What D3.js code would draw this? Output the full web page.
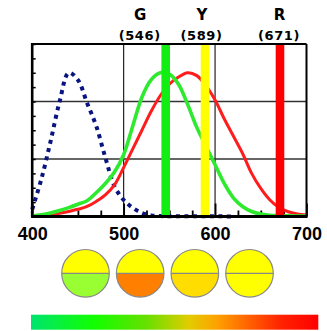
<!DOCTYPE html>
<html>
<head>
<meta charset="utf-8">
<script src="https://cdn.jsdelivr.net/npm/d3@7"></script>
<style>
body{margin:0;background:#fff;}
svg{display:block;}
.tick text{font-family:"Liberation Sans",Arial,sans-serif;font-weight:bold;}
</style>
</head>
<body>
<div id="chart"></div>
<script>
var w=327, h=331;

// wavelength grid (nm)
var wavelengths=[400,410,420,430,440,450,460,470,480,490,500,510,520,530,540,550,560,570,580,590,600,610,620,630,640,650,660,670,680,690,700];
// S cone (blue dotted), ends at 620
var sCone=[0.5,2.6,5.2,8.0,10.0,9.5,7.9,6.3,4.1,2.1,1.15,0.6,0.25,0.08,0.03,0.02,0.02,0.01,0.01,0.01,0.01,0.01,0.0,null,null,null,null,null,null,null,null];
// M cone (green)
var mCone=[0.03,0.12,0.25,0.42,0.62,0.85,1.1,1.65,2.3,3.1,4.3,6.3,8.3,9.5,10.0,9.9,9.2,7.8,6.2,4.9,3.6,2.3,1.3,0.7,0.35,0.17,0.09,0.06,0.05,0.04,0.03];
// L cone (red)
var lCone=[0.0,0.05,0.12,0.22,0.35,0.5,0.7,1.05,1.5,2.2,3.4,4.7,6.0,7.3,8.4,9.2,9.7,10.0,9.8,9.1,8.1,6.8,5.6,4.4,3.0,1.95,1.15,0.62,0.33,0.18,0.1];

// lamp lines
var lampNames=["G","Y","R"];
var lampWl=[546,589,671];
var lampColors=["#11ee11","#ffff00","#ff0000"];

// tick values
var majorTicks=[400,500,600,700];
var minorTicks=[425,450,475,525,550,575,625,650,675];
var yTicks=d3.range(0,13,1);
var gridX=[500,600];
var gridY=[4,8];

// colour matching discs
var discTop="#ffff00";
var discBottom=["#99ff33","#ff8000","#ffdd00","#ffff00"];

// spectrum bar stops
var specOffsets=[0,0.22,0.4,0.55,0.65,0.76,0.87,1];
var specColors=["#00e46e","#11ff00","#66e000","#e2cc00","#ffa000","#ff6000","#ff2200","#ff0000"];

var svg=d3.select("#chart").append("svg").attr("width",w).attr("height",h);

var xScale=d3.scaleLinear().domain([400,700]).range([32.2,306.5]);
var yScale=d3.scaleLinear().domain([0,12]).range([216.5,44]);

// grid
svg.selectAll(".gx").data(gridX).enter().append("line")
  .attr("x1",function(d){return xScale(d);}).attr("x2",function(d){return xScale(d);})
  .attr("y1",yScale(12)).attr("y2",yScale(0))
  .attr("stroke","#222").attr("stroke-width",1.2);
svg.selectAll(".gy").data(gridY).enter().append("line")
  .attr("x1",xScale(400)).attr("x2",xScale(700))
  .attr("y1",function(d){return yScale(d);}).attr("y2",function(d){return yScale(d);})
  .attr("stroke","#333").attr("stroke-width",1.3);

// minor bottom ticks
svg.append("g").attr("transform","translate(0,"+yScale(0)+")")
  .call(d3.axisBottom(xScale).tickValues(minorTicks).tickSizeInner(-6).tickSizeOuter(0).tickFormat(""))
  .call(function(g){g.select(".domain").remove();g.selectAll("line").attr("stroke-width",1.8);});
// major bottom ticks + labels
svg.append("g").attr("transform","translate(0,"+yScale(0)+")")
  .call(d3.axisBottom(xScale).tickValues(majorTicks).tickSizeInner(-13).tickSizeOuter(0).tickPadding(11).tickFormat(d3.format("d")))
  .call(function(g){
    g.select(".domain").remove();
    g.selectAll("line").attr("stroke-width",1.8);
    g.selectAll("text").attr("font-size",18).attr("fill","#000").attr("dy","0.71em");
  });
// left ticks
svg.append("g").attr("transform","translate("+xScale(400)+",0)")
  .call(d3.axisLeft(yScale).tickValues(yTicks).tickSizeInner(-3.5).tickSizeOuter(0).tickFormat(""))
  .call(function(g){g.select(".domain").remove();g.selectAll("line").attr("stroke-width",1.5);});

var line=function(vals){
  return d3.line()
    .defined(function(d,i){return vals[i]!==null;})
    .x(function(d){return xScale(d);})
    .y(function(d,i){return yScale(vals[i]);})
    .curve(d3.curveCatmullRom.alpha(0.5))(wavelengths);
};

svg.append("path").attr("d",line(sCone)).attr("fill","none")
  .attr("stroke","#0a1480").attr("stroke-width",4).attr("stroke-dasharray","4,4.5");
svg.append("path").attr("d",line(lCone)).attr("fill","none")
  .attr("stroke","#ff1c1c").attr("stroke-width",3);
svg.append("path").attr("d",line(mCone)).attr("fill","none")
  .attr("stroke","#2eea2e").attr("stroke-width",3.6);

// lamp bars
svg.selectAll(".lamp").data(lampWl).enter().append("rect")
  .attr("x",function(d){return xScale(d)-4.3;})
  .attr("width",8.6)
  .attr("y",yScale(12)).attr("height",yScale(0)-yScale(12))
  .attr("fill",function(d,i){return lampColors[i];});

// lamp labels (sit a little left of their bars, G most of all)
var labelDx=[-26,-3.5,-1];
svg.selectAll(".lname").data(lampNames).enter().append("text")
  .attr("x",function(d,i){return xScale(lampWl[i])+labelDx[i]+0.5;})
  .attr("y",20)
  .attr("text-anchor","middle")
  .attr("font-family","'DejaVu Sans',Verdana,sans-serif").attr("font-weight","bold").attr("font-size",15)
  .text(function(d){return d;});
svg.selectAll(".lwl").data(lampWl).enter().append("text")
  .attr("x",function(d,i){return xScale(d)+labelDx[i];})
  .attr("y",39.5)
  .attr("text-anchor","middle")
  .attr("font-family","'DejaVu Sans',Verdana,sans-serif").attr("font-weight","bold").attr("font-size",13)
  .attr("letter-spacing","0.6px")
  .text(function(d){return "("+d+")";});

// frame
svg.append("line").attr("x1",xScale(400)).attr("x2",xScale(700)).attr("y1",yScale(12)).attr("y2",yScale(12)).attr("stroke","#000").attr("stroke-width",2);
svg.append("line").attr("x1",xScale(700)).attr("x2",xScale(700)).attr("y1",yScale(12)).attr("y2",yScale(0)).attr("stroke","#000").attr("stroke-width",2);
svg.append("line").attr("x1",xScale(400)).attr("x2",xScale(400)).attr("y1",yScale(12)-1).attr("y2",yScale(0)+1).attr("stroke","#000").attr("stroke-width",2.6);
svg.append("line").attr("x1",xScale(400)-1).attr("x2",xScale(700)+1).attr("y1",yScale(0)).attr("y2",yScale(0)).attr("stroke","#000").attr("stroke-width",3);

// discs
var discX=d3.scalePoint().domain(d3.range(discBottom.length)).range([85.5,249.5]);
var cy=273.3, r=23.8;
var arc=d3.arc().innerRadius(0).outerRadius(r);
var discs=svg.selectAll(".disc").data(discBottom).enter().append("g")
  .attr("transform",function(d,i){return "translate("+discX(i)+","+cy+")";});
discs.append("path").attr("d",arc({startAngle:-Math.PI/2,endAngle:Math.PI/2})).attr("fill",discTop);
discs.append("path").attr("d",arc({startAngle:Math.PI/2,endAngle:Math.PI*1.5})).attr("fill",function(d){return d;});
discs.append("line").attr("x1",-r).attr("x2",r).attr("y1",0).attr("y2",0).attr("stroke","#888").attr("stroke-width",1.2);
discs.append("circle").attr("r",r).attr("fill","none").attr("stroke","#888").attr("stroke-width",1.2);

// spectrum bar
var grad=svg.append("defs").append("linearGradient").attr("id","spec");
grad.selectAll("stop").data(specOffsets).enter().append("stop")
  .attr("offset",function(d){return d;})
  .attr("stop-color",function(d,i){return specColors[i];});
svg.append("rect").attr("x",31).attr("y",314.7).attr("width",287.3).attr("height",15).attr("fill","url(#spec)");
</script>
</body>
</html>
